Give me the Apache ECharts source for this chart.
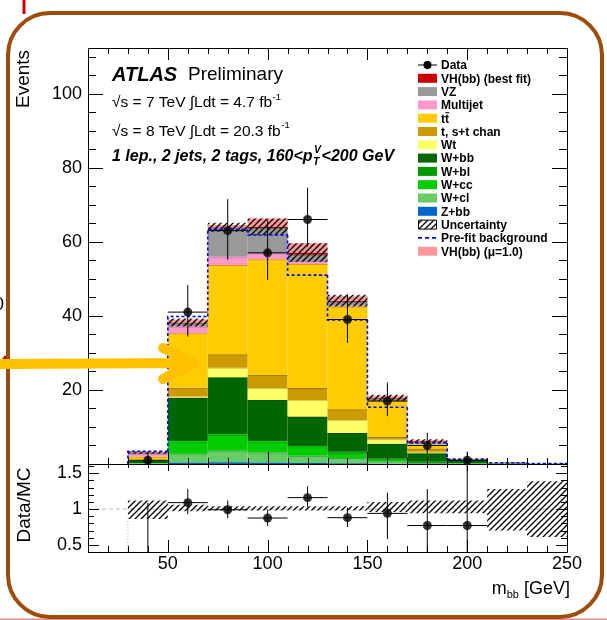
<!DOCTYPE html>
<html><head><meta charset="utf-8">
<script src="https://cdn.jsdelivr.net/npm/echarts@6/dist/echarts.min.js"></script>
<style>html,body{margin:0;padding:0;background:#fff}#c{width:607px;height:620px}</style>
</head><body><div id="c"></div>
<script>
// ---------------- data ----------------
const binLow = [30, 50, 70, 90, 110, 130, 150, 170, 190, 210, 230];
const binWidth = 20;
// stacked backgrounds, bottom to top
const Zbb      = [0.05, 0.4, 0.5, 0.4, 0.3, 0.2, 0.1, 0.05, 0.02, 0.01, 0];
const Wcl      = [0.1, 2.4, 3.1, 2.7, 1.9, 1.4, 0.6, 0.2, 0.08, 0.02, 0];
const Wcc      = [0.1, 3.3, 4.3, 3.0, 2.6, 1.5, 0.6, 0.3, 0.1, 0.02, 0];
const Wbl      = [0.05, 0.4, 0.5, 0.4, 0.3, 0.2, 0.1, 0.05, 0.02, 0, 0];
const Wbb      = [0.6, 11.3, 15.0, 10.8, 7.7, 5.1, 4.1, 2.3, 0.9, 0.15, 0.05];
const Wt       = [0.1, 0.4, 2.6, 3.2, 4.5, 3.5, 1.2, 0.4, 0.05, 0.02, 0];
const stChan   = [0.1, 2.4, 3.6, 3.6, 3.2, 2.9, 0.6, 0.9, 0.05, 0.02, 0];
const ttbar    = [0.9, 14.7, 24.1, 31.2, 33.5, 27.7, 9.8, 1.5, 0.1, 0.08, 0.05];
const Multijet = [0.8, 1.8, 2.3, 1.6, 0.8, 0.3, 0.2, 0.1, 0, 0, 0];
const VZ       = [0.2, 0.9, 7.8, 6.8, 1.7, 1.0, 0.4, 0.3, 0.02, 0, 0];
const VHfit    = [0.1, 0.2, 0.1, 0.3, 0.6, 0.3, 0.2, 0.1, 0, 0, 0];
const VHmu1    = [0.2, 0.8, 0.6, 2.3, 2.5, 1.2, 0.5, 0.2, 0.05, 0, 0];
const uncHalf  = [0.3, 1.1, 1.2, 2.25, 2.5, 1.6, 0.8, 0.5, 0.15, 0.1, 0.1];
const preFit   = [3.4, 39.8, 63.3, 61.8, 51.0, 38.9, 15.3, 5.7, 1.3, 0.35, 0.15];
// data
const dataX    = [40, 60, 80, 100, 120, 140, 160, 180, 200];
const dataY    = [1, 41, 63, 57, 66, 39, 17, 5, 1];
const dataUp   = [2.3, 7.3, 8.5, 8.8, 8.6, 6.8, 5.0, 3.4, 2.3];
const dataDn   = [0.8, 6.6, 7.9, 7.3, 7.3, 6.3, 4.1, 2.2, 0.8];
// ratio panel
const ratioY   = [0.29, 1.09, 0.99, 0.875, 1.16, 0.88, 0.94, 0.77, 0.77];
const ratioUp  = [0.8, 0.19, 0.13, 0.12, 0.16, 0.14, 0.29, 0.51, 1.7];
const ratioDn  = [0.25, 0.16, 0.12, 0.11, 0.13, 0.13, 0.36, 0.45, 0.6];
const bandLo   = [0.86, 0.97, 0.98, 0.98, 0.98, 0.98, 0.96, 0.94, 0.94, 0.70, 0.61];
const bandHi   = [1.12, 1.06, 1.04, 1.04, 1.04, 1.04, 1.10, 1.12, 1.12, 1.28, 1.39];
// ticks / labels
const xMajor = [50, 100, 150, 200, 250];
const xLabels = [50, 100, 150, 200, 250];
const yMainMajor = [0, 20, 40, 60, 80, 100];
const yMainLabels = [20, 40, 60, 80, 100];
const yRatioMajor = [0.5, 1, 1.5];
const yRatioLabels = [0.5, 1, 1.5];
const legendLabels = ['Data', 'VH(bb) (best fit)', 'VZ', 'Multijet', 'tt', 't, s+t chan', 'Wt',
  'W+bb', 'W+bl', 'W+cc', 'W+cl', 'Z+bb', 'Uncertainty', 'Pre-fit background', 'VH(bb) (\u03BC=1.0)'];

// ---------------- styles ----------------
const X_MIN = 10, X_MAX = 250, Y_MAX = 112.3, R_MIN = 0.40, R_MAX = 1.63;
const FF = '"Liberation Sans", Arial, Helvetica, sans-serif';
const layers = [
  {v: Zbb, c: '#0066CC'}, {v: Wcl, c: '#66CC66'}, {v: Wcc, c: '#00CC00'}, {v: Wbl, c: '#009900'},
  {v: Wbb, c: '#006600'}, {v: Wt, c: '#FFFF66'}, {v: stChan, c: '#CC9900'}, {v: ttbar, c: '#FFCC00'},
  {v: Multijet, c: '#FF99CC'}, {v: VZ, c: '#999999'}, {v: VHfit, c: '#CC0000'}
];
const legendStyle = [
  {k: 'data'}, {c: '#CC0000'}, {c: '#999999'}, {c: '#FF99CC'}, {c: '#FFCC00', tt: true}, {c: '#CC9900'},
  {c: '#FFFF66'}, {c: '#006600'}, {c: '#009900'}, {c: '#00CC00'}, {c: '#66CC66'}, {c: '#0066CC'},
  {k: 'hatch'}, {k: 'dash'}, {c: '#FF9999'}
];

function makeHatch(sp, lw) {
  const c = document.createElement('canvas'); c.width = sp; c.height = sp;
  const g = c.getContext('2d'); g.strokeStyle = '#000'; g.lineWidth = lw;
  g.beginPath();
  g.moveTo(-1, sp + 1); g.lineTo(sp + 1, -1);
  g.moveTo(-sp / 2 - 1, sp / 2 + 1); g.lineTo(sp / 2 + 1, -sp / 2 - 1);
  g.moveTo(sp / 2 - 1, sp * 1.5 + 1); g.lineTo(sp * 1.5 + 1, sp / 2 - 1);
  g.stroke();
  return c;
}
const hatchCanvas = makeHatch(6, 1.3);
const hatchFill = () => ({image: hatchCanvas, repeat: 'repeat'});

// ---------------- series ----------------
const series = [];
function rectSeries(xi, yi, items, fillFn, z, edge) {
  series.push({
    type: 'custom', xAxisIndex: xi, yAxisIndex: yi, z: z, silent: true,
    data: items, encode: {x: [0, 1], y: [2, 3]},
    renderItem(params, api) {
      const a = api.coord([api.value(0), api.value(3)]);
      const b = api.coord([api.value(1), api.value(2)]);
      const shape = echarts.graphic.clipRectByRect(
        {x: a[0], y: a[1], width: b[0] - a[0], height: b[1] - a[1]}, params.coordSys);
      if (!shape || shape.height <= 0) return;
      const ch = [{type: 'rect', shape: shape, style: {fill: fillFn()}}];
      if (edge && shape.height > 0.6) ch.push({type: 'line', shape: {x1: shape.x, y1: shape.y + 0.5, x2: shape.x + shape.width, y2: shape.y + 0.5}, style: {stroke: 'rgba(0,0,0,0.22)', lineWidth: 1}});
      return {type: 'group', children: ch};
    }
  });
}
// stacked histogram
const cum = binLow.map(() => 0);
layers.forEach((L, li) => {
  const items = binLow.map((x, i) => { const b = cum[i]; cum[i] += L.v[i]; return [x, x + binWidth, b, cum[i]]; });
  rectSeries(0, 0, items, () => L.c, 2 + li * 0.01, true);
});
// VH (mu=1) on top
rectSeries(0, 0, binLow.map((x, i) => [x, x + binWidth, cum[i], cum[i] + VHmu1[i]]), () => '#FF9999', 2.5);
// uncertainty hatch
rectSeries(0, 0, binLow.map((x, i) => [x, x + binWidth, cum[i] - uncHalf[i], cum[i] + uncHalf[i]]), hatchFill, 3);

// pre-fit dashed outline
series.push({
  type: 'custom', xAxisIndex: 0, yAxisIndex: 0, z: 4, silent: true,
  data: binLow.map((x, i) => [x, x + binWidth, i === 0 ? 0 : preFit[i - 1], preFit[i], i === binLow.length - 1 ? 1 : 0]),
  encode: {x: [0, 1], y: [2, 3]},
  renderItem(params, api) {
    const xl = api.value(0), xh = api.value(1), prev = api.value(2), v = api.value(3), last = api.value(4);
    let pts = [api.coord([xl, prev]), api.coord([xl, v]), api.coord([xh, v])];
    if (last) pts.push(api.coord([xh, 0]));
    pts = echarts.graphic.clipPointsByRect(pts, params.coordSys);
    return {type: 'polyline', shape: {points: pts}, style: {stroke: '#0000FF', lineWidth: 1.6, lineDash: [3, 2.5], fill: null}};
  }
});

// data error bars + markers
function errSeries(xi, yi, vals, up, dn, yMin, yMax) {
  series.push({
    type: 'custom', xAxisIndex: xi, yAxisIndex: yi, z: 6, silent: true,
    data: dataX.map((x, i) => [x, vals[i], vals[i] - dn[i], vals[i] + up[i]]),
    encode: {x: 0, y: [1, 2, 3]},
    renderItem(params, api) {
      const x = api.value(0), y = api.value(1), lo = api.value(2), hi = api.value(3);
      const cs = params.coordSys, ch = [];
      if (hi > yMin && lo < yMax) {
        const v = echarts.graphic.clipPointsByRect([api.coord([x, lo]), api.coord([x, hi])], cs);
        ch.push({type: 'line', shape: {x1: v[0][0], y1: v[0][1], x2: v[1][0], y2: v[1][1]}, style: {stroke: '#000', lineWidth: 1}});
      }
      if (y >= yMin && y <= yMax) {
        const h = echarts.graphic.clipPointsByRect([api.coord([x - binWidth / 2, y]), api.coord([x + binWidth / 2, y])], cs);
        ch.push({type: 'line', shape: {x1: h[0][0], y1: h[0][1], x2: h[1][0], y2: h[1][1]}, style: {stroke: '#000', lineWidth: 1}});
      }
      return {type: 'group', children: ch};
    }
  });
  series.push({
    type: 'scatter', xAxisIndex: xi, yAxisIndex: yi, z: 7, silent: true, clip: true,
    symbol: 'circle', symbolSize: 9, itemStyle: {color: '#000'},
    data: dataX.map((x, i) => [x, vals[i]])
  });
}
errSeries(0, 0, dataY, dataUp, dataDn, 0, Y_MAX);

// ratio: reference line at 1 and dotted vertical at 30
series.push({
  type: 'custom', xAxisIndex: 1, yAxisIndex: 1, z: 1, silent: true,
  data: [[X_MIN, X_MAX, 1, 1]], encode: {x: [0, 1], y: [2, 3]},
  renderItem(params, api) {
    const a = api.coord([api.value(0), 1]), b = api.coord([api.value(1), 1]);
    const c = api.coord([30, R_MIN]), d = api.coord([30, bandLo[0]]);
    return {type: 'group', children: [
      {type: 'line', shape: {x1: a[0], y1: a[1], x2: b[0], y2: b[1]}, style: {stroke: '#bbbbbb', lineWidth: 1, lineDash: [4, 3]}},
      {type: 'line', shape: {x1: c[0], y1: c[1], x2: d[0], y2: d[1]}, style: {stroke: '#aaaaaa', lineWidth: 1, lineDash: [1, 2]}}
    ]};
  }
});
rectSeries(1, 1, binLow.map((x, i) => [x, x + binWidth, bandLo[i], bandHi[i]]), hatchFill, 3);
errSeries(1, 1, ratioY, ratioUp, ratioDn, R_MIN, R_MAX);

// ---------------- tick marks (drawn through the axes' scales) ----------------
const minorX = []; for (let v = 20; v <= 240; v += 10) if (v % 50) minorX.push(v);
const minorYMain = []; for (let v = 5; v <= 110; v += 5) if (v % 20) minorYMain.push(v);
const minorYRatio = []; for (let k = 4; k <= 16; k++) if (k !== 5 && k !== 10 && k !== 15) minorYRatio.push(k / 10);

function tickSeries(grid, dim, vals, lenA, lenB, yRef) {
  series.push({
    type: 'custom', xAxisIndex: grid, yAxisIndex: grid, z: 10, silent: true,
    data: vals.map(v => [v]), encode: dim === 'x' ? {x: 0} : {y: 0},
    renderItem(params, api) {
      const cs = params.coordSys, v = api.value(0);
      const lc = {stroke: '#000', lineWidth: 1};
      if (dim === 'x') {
        const px = Math.round(api.coord([v, yRef])[0]) + 0.5;
        if (px < cs.x || px > cs.x + cs.width + 1) return;
        const yb = cs.y + cs.height, yt = cs.y;
        return {type: 'group', children: [
          {type: 'line', shape: {x1: px, y1: yb, x2: px, y2: yb - lenA}, style: lc},
          {type: 'line', shape: {x1: px, y1: yt, x2: px, y2: yt + lenB}, style: lc}
        ]};
      } else {
        const py = Math.round(api.coord([X_MIN, v])[1]) + 0.5;
        if (py < cs.y || py > cs.y + cs.height + 1) return;
        const xl = cs.x, xr = cs.x + cs.width;
        return {type: 'group', children: [
          {type: 'line', shape: {x1: xl, y1: py, x2: xl + lenA, y2: py}, style: lc},
          {type: 'line', shape: {x1: xr, y1: py, x2: xr - lenB, y2: py}, style: lc}
        ]};
      }
    }
  });
}
tickSeries(0, 'x', xMajor, 12, 12, 0);
tickSeries(0, 'x', minorX, 6, 6, 0);
tickSeries(0, 'y', yMainMajor, 15, 15);
tickSeries(0, 'y', minorYMain, 8, 8);
tickSeries(1, 'x', xMajor, 12, 7, 1);
tickSeries(1, 'x', minorX, 6, 4, 1);
tickSeries(1, 'y', yRatioMajor, 11, 11);
tickSeries(1, 'y', minorYRatio, 6, 6);

// ---------------- axes (labels only) ----------------
const labelFont = {fontFamily: FF, fontSize: 18, color: '#000'};
function ax(grid, pos, min, max, labels, margin, fmt) {
  const o = {
    type: 'value', gridIndex: grid, position: pos, min: min, max: max, z: 10,
    axisLine: {show: false, onZero: false}, splitLine: {show: false},
    axisTick: {show: false}, axisLabel: {show: false}
  };
  if (labels) o.axisLabel = Object.assign({show: true, customValues: labels, margin: margin, formatter: fmt || (v => String(v))}, labelFont);
  return o;
}
const xAxis = [ax(0, 'bottom', X_MIN, X_MAX), ax(1, 'bottom', X_MIN, X_MAX, xLabels, 3)];
const yAxis = [
  ax(0, 'left', 0, Y_MAX, yMainLabels, 6),
  ax(1, 'left', R_MIN, R_MAX, yRatioLabels, 6, v => (Math.abs(v - 1) < 1e-9 ? '1' : String(v)))
];

// ---------------- text & decorations ----------------
const mctx = document.createElement('canvas').getContext('2d');
function tw(t, font) { mctx.font = font; return mctx.measureText(t).width; }
function T(x, y, t, font, extra) {
  return Object.assign({type: 'text', x: x, y: y, z: 50, silent: true,
    style: {text: t, font: font, fill: '#000', align: 'left', verticalAlign: 'middle'}}, extra || {});
}
const g = [];
// frames
g.push({type: 'rect', z: 20, silent: true, shape: {x: 88.5, y: 48.5, width: 479, height: 416}, style: {fill: null, stroke: '#000', lineWidth: 1}});
g.push({type: 'rect', z: 20, silent: true, shape: {x: 88.5, y: 464.5, width: 479, height: 88}, style: {fill: null, stroke: '#000', lineWidth: 1}});
// ATLAS labels
const fA = 'italic bold 20px ' + FF, fP = '19px ' + FF, f15 = '15.5px ' + FF, fSup = '9.5px ' + FF;
g.push(T(112, 75, 'ATLAS', fA));
g.push(T(188, 75, 'Preliminary', fP));
[['\u221As = 7 TeV \u222BLdt = 4.7 fb', 103], ['\u221As = 8 TeV \u222BLdt = 20.3 fb', 131.5]].forEach(([s, y]) => {
  g.push(T(112, y, s, f15));
  g.push(T(112 + tw(s, f15) + 0.5, y - 6, '-1', fSup));
});
const fB = 'italic bold 16px ' + FF, fBs = 'italic bold 10.5px ' + FF;
const s4a = '1 lep., 2 jets, 2 tags, 160<p';
let x4 = 112;
g.push(T(x4, 157, s4a, fB)); x4 += tw(s4a, fB);
g.push(T(x4 + 0.5, 162.5, 'T', fBs));
g.push(T(x4 + 1.5, 150, 'V', fBs));
x4 += tw('V', fBs) + 2;
g.push(T(x4, 157, '<200 GeV', fB));
// axis titles
g.push({type: 'text', x: 24, y: 79, z: 50, silent: true, rotation: Math.PI / 2,
  style: {text: 'Events', font: '19px ' + FF, fill: '#000', align: 'center', verticalAlign: 'middle'}});
g.push({type: 'text', x: 25, y: 505, z: 50, silent: true, rotation: Math.PI / 2,
  style: {text: 'Data/MC', font: '19px ' + FF, fill: '#000', align: 'center', verticalAlign: 'middle'}});
(function () {
  const f = '18px ' + FF, fs = '11px ' + FF;
  const total = tw('m', f) + tw('bb', fs) + tw(' [GeV]', f);
  let x = 570 - total;
  g.push(T(x, 589, 'm', f)); x += tw('m', f);
  g.push(T(x, 595, 'bb', fs)); x += tw('bb', fs);
  g.push(T(x, 589, ' [GeV]', f));
})();
// legend
const fL = 'bold 12px ' + FF;
legendLabels.forEach((lab, i) => {
  const y = 65 + i * 13.3, st = legendStyle[i];
  if (st.k === 'data') {
    g.push({type: 'line', z: 50, silent: true, shape: {x1: 418, y1: y, x2: 437, y2: y}, style: {stroke: '#000', lineWidth: 1}});
    g.push({type: 'circle', z: 51, silent: true, shape: {cx: 427.5, cy: y, r: 4}, style: {fill: '#000'}});
  } else if (st.k === 'hatch') {
    g.push({type: 'rect', z: 50, silent: true, shape: {x: 418.5, y: y - 4.5, width: 18, height: 9}, style: {fill: hatchFill(), stroke: '#000', lineWidth: 1}});
  } else if (st.k === 'dash') {
    g.push({type: 'line', z: 50, silent: true, shape: {x1: 418, y1: y, x2: 437, y2: y}, style: {stroke: '#0000FF', lineWidth: 1.6, lineDash: [4, 3]}});
  } else {
    g.push({type: 'rect', z: 50, silent: true, shape: {x: 418, y: y - 4.5, width: 19, height: 9}, style: {fill: st.c}});
  }
  g.push(T(441, y + 1, lab, fL));
  if (st.tt) {
    const w1 = tw('t', fL);
    g.push({type: 'line', z: 51, silent: true, shape: {x1: 441 + w1 + 0.3, y1: y - 5.5, x2: 441 + 2 * w1 + 0.3, y2: y - 5.5}, style: {stroke: '#000', lineWidth: 1}});
  }
});
// slide decorations
g.push({type: 'line', z: 90, silent: true, shape: {x1: 24, y1: 0, x2: 24, y2: 14}, style: {stroke: '#CC0000', lineWidth: 3}});
g.push({type: 'line', z: 90, silent: true, shape: {x1: 0, y1: 619.3, x2: 607, y2: 619.3}, style: {stroke: '#E08A8A', lineWidth: 1.5}});
g.push({type: 'line', z: 90, silent: true, shape: {x1: 0, y1: 365, x2: 6, y2: 356}, style: {stroke: '#CC0000', lineWidth: 3}});
g.push(T(-6, 305, '0', '18px ' + FF));
g.push({type: 'rect', z: 95, silent: true, shape: {x: 8, y: 13, width: 594, height: 604, r: 42}, style: {fill: null, stroke: '#9C4D0C', lineWidth: 4}});
g.push({type: 'polyline', z: 96, silent: true, shape: {points: [[-6, 364], [190, 363]]}, style: {stroke: '#FFC000', lineWidth: 10, fill: null}});
g.push({type: 'polyline', z: 96, silent: true, shape: {points: [[163, 348], [194, 363], [163, 379]]}, style: {stroke: '#FFC000', lineWidth: 10, lineCap: 'round', lineJoin: 'round', fill: null}});

const chart = echarts.init(document.getElementById('c'), null, {renderer: 'canvas'});
chart.setOption({
  animation: false,
  backgroundColor: '#fff',
  grid: [
    {left: 88, top: 48, width: 479, height: 416, show: false},
    {left: 88, top: 464, width: 479, height: 88, show: false}
  ],
  xAxis: xAxis, yAxis: yAxis, series: series, graphic: g
});
</script></body></html>
